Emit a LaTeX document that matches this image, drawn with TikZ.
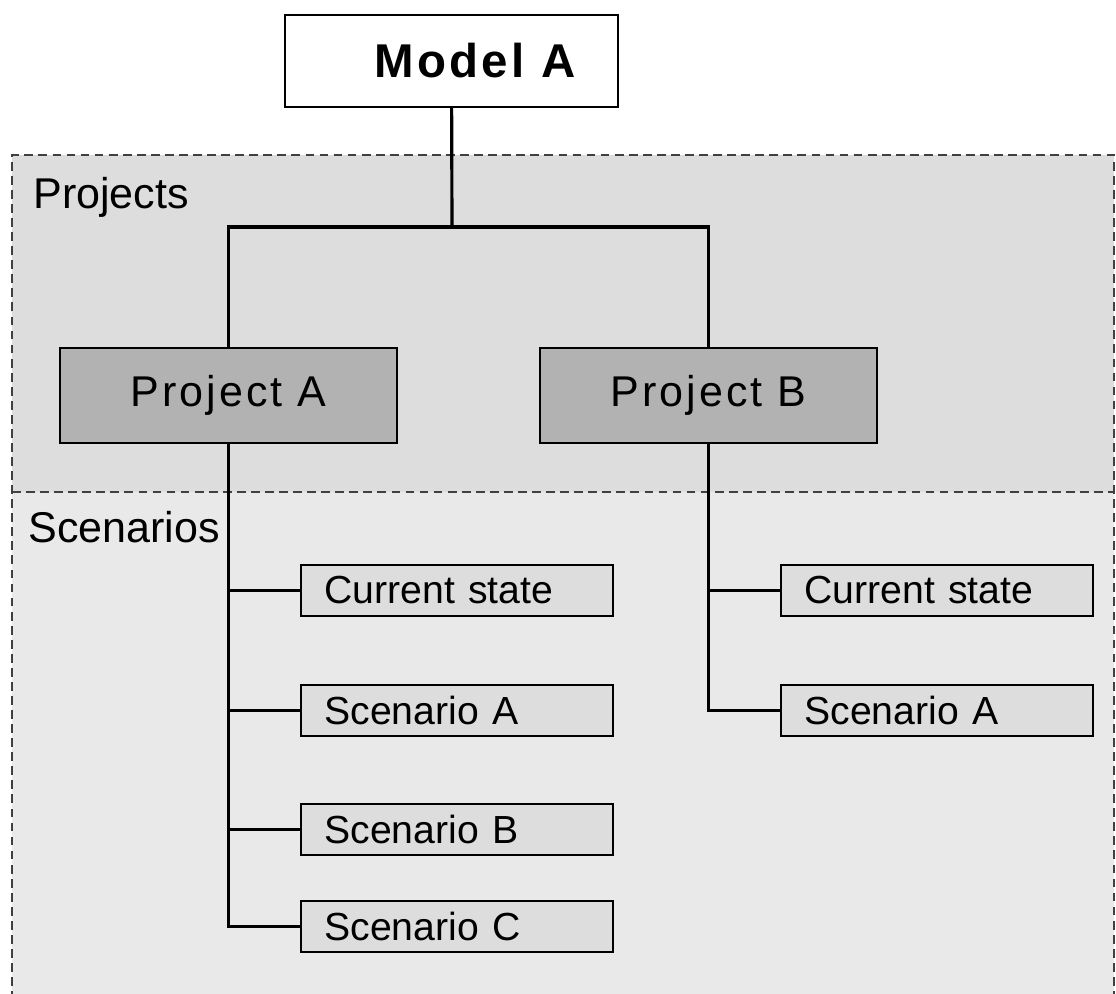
\documentclass[tikz,border=0pt]{standalone}
\usepackage{fontspec}
\setmainfont{Liberation Sans}
\newfontfamily\wideface[LetterSpace=7]{Liberation Sans}
\usepackage{tikz}
\usetikzlibrary{positioning}
\definecolor{projband}{gray}{0.865}
\definecolor{scenband}{gray}{0.915}
\definecolor{projfill}{gray}{0.70}
\definecolor{scenfill}{gray}{0.865}

\begin{document}
\begin{tikzpicture}[x=0.02cm,y=-0.02cm]
                    \tikzstyle{band}=[draw=black!75, dash pattern=on 5pt off 3pt, line width=0.7pt]
                    \tikzstyle{modelbox}=[draw, fill=white, line width=1pt, minimum width=6.66cm, minimum height=1.84cm, inner sep=0pt, font=\wideface\bfseries\fontsize{27}{32}\selectfont]
                    \tikzstyle{projbox}=[draw, fill=projfill, line width=1pt, minimum width=6.74cm, minimum height=1.9cm, inner sep=0pt, font=\wideface\fontsize{24.5}{28}\selectfont]
                    \tikzstyle{scenbox}=[draw, fill=scenfill, line width=1pt, anchor=west, minimum width=6.24cm, minimum height=1.02cm, text width=5.3cm, inner xsep=0.47cm, inner ysep=0pt, align=left, font=\fontsize{22.3}{26}\selectfont]
                    \tikzstyle{bandlabel}=[anchor=west, inner sep=0pt, font=\fontsize{24.5}{28}\selectfont]
                    \tikzstyle{link}=[line width=1.8pt]
                    \useasboundingbox (0,0) rectangle (1116,994);
                    % the two dashed bands
                    \fill [projband] (12,155) rectangle (1114,492);
                    \fill [scenband] (12,492) rectangle (1114,1000);
                    \draw [band] (12,1000) -- (12,155) -- (1114,155) -- (1114,1000);
                    \draw [band] (12,492) -- (1114,492);
                    \node [bandlabel] (projects) at (33,197) {Projects};
                    \node [bandlabel] (scenarios) at (28,527) {Scenarios};
                    % model and projects
                    \node [modelbox] (model) at (451.5,61) {\hspace*{0.94cm}Model A};
                    \node [projbox] (pa) at (228.5,395.5) {Project A};
                    \node [projbox] (pb) at (708.5,395.5) {Project B};
                    \coordinate (split) at (452,227);
                    \draw [link] (model) -- (split);
                    \draw [link] (pa.north) |- (split) -| (pb.north);
                    % scenarios of project A
                    \node [scenbox] (acur) at (300,590.5) {Current state};
                    \node [scenbox] (asa) at (300,710.5) {Scenario A};
                    \node [scenbox] (asb) at (300,829.5) {Scenario B};
                    \node [scenbox] (asc) at (300,926.5) {Scenario C};
                    \draw [link] (pa.south) |- (asc.west);
                    \draw [link] (pa.south |- acur.west) -- (acur.west);
                    \draw [link] (pa.south |- asa.west) -- (asa.west);
                    \draw [link] (pa.south |- asb.west) -- (asb.west);
                    % scenarios of project B
                    \node [scenbox] (bcur) at (780,590.5) {Current state};
                    \node [scenbox] (bsa) at (780,710.5) {Scenario A};
                    \draw [link] (pb.south) |- (bsa.west);
                    \draw [link] (pb.south |- bcur.west) -- (bcur.west);
                \end{tikzpicture}
\end{document}
